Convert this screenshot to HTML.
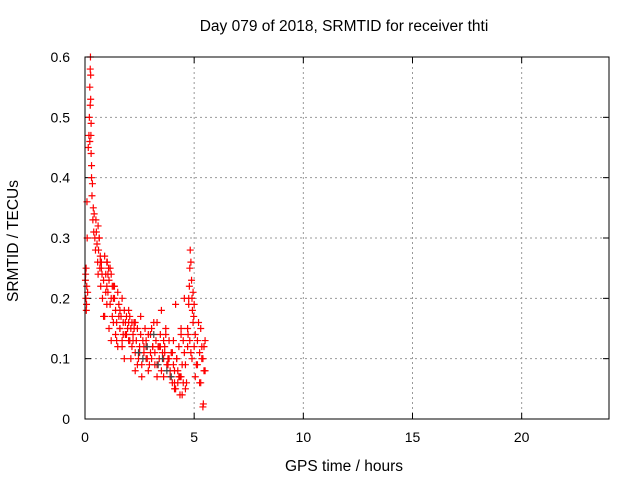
<!DOCTYPE html>
<html><head><meta charset="utf-8"><style>
body{margin:0;background:#fff}
svg{display:block;font-family:"Liberation Sans",sans-serif}
</style></head><body>
<svg id="chart" width="640" height="480">
<text x="344" y="31" font-size="15.5" text-anchor="middle">Day 079 of 2018, SRMTID for receiver thti</text>
<text x="344" y="471" font-size="15.5" text-anchor="middle">GPS time / hours</text>
<text x="18" y="241" font-size="15.5" text-anchor="middle" transform="rotate(-90 18 241)">SRMTID / TECUs</text>
<g id="grid"></g>
<g id="ticks"></g>
<g id="pts"></g>
<rect x="85" y="57" width="524" height="362" fill="none" stroke="#000"/>
</svg>
<script>
const xTicks=[0,5,10,15,20];
const yTicks=[0,0.1,0.2,0.3,0.4,0.5,0.6];
const yTickLabels=["0","0.1","0.2","0.3","0.4","0.5","0.6"];
const hours=[
0.02,0.04,0.05,0.06,0.08,0.1,0.12,0.03,0.07,0.09,
0.15,0.18,0.2,0.22,0.24,0.25,0.26,0.27,0.28,0.3,
0.22,0.24,0.26,0.28,0.3,0.32,0.34,0.36,0.38,0.4,
0.42,0.45,0.48,0.5,0.52,0.55,0.58,0.6,0.62,0.65,
0.68,0.7,0.72,0.75,0.78,0.8,0.85,0.9,0.95,1.0,
1.02,1.05,1.08,1.1,1.15,1.2,1.25,1.3,1.35,1.4,
1.45,1.5,1.55,1.6,1.65,1.7,1.75,1.8,1.85,1.9,
1.95,2.0,0.9,1.0,1.1,1.2,1.3,1.4,1.5,1.6,
1.7,1.8,1.9,2.0,2.05,2.1,2.15,2.2,2.25,2.3,
2.35,2.4,2.45,2.5,2.55,2.6,2.65,2.7,2.75,2.8,
2.85,2.9,2.95,3.0,2.1,2.2,2.3,2.4,2.5,2.6,
2.7,2.8,2.9,3.0,3.05,3.1,3.15,3.2,3.25,3.3,
3.35,3.4,3.45,3.5,3.55,3.6,3.65,3.7,3.75,3.8,
3.85,3.9,3.95,4.0,3.1,3.2,3.3,3.4,3.5,3.6,
3.7,3.8,3.9,4.0,4.05,4.1,4.15,4.2,4.25,4.3,
4.35,4.4,4.45,4.5,4.55,4.6,4.1,4.2,4.3,4.4,
4.5,4.6,4.65,4.7,4.72,4.75,4.78,4.8,4.82,4.85,
4.88,4.9,4.92,4.95,4.98,5.0,4.7,4.75,4.8,4.85,
4.9,4.95,5.0,5.05,5.1,5.15,5.2,5.25,5.3,5.35,
5.4,5.45,5.5,5.05,5.15,5.25,5.35,5.45,5.5,5.3,
5.4,5.42,1.2,1.6,2.3,2.8,3.3,3.6,4.1,4.4,
0.6,0.65,0.7,0.95,1.05,1.25,1.35,1.55,1.75,1.85,
2.05,2.25,2.45,2.65,2.85,3.15,3.35,3.55,3.75,3.95,
4.05,4.25,4.45,4.55,0.75,1.15,1.45,2.15,2.55,3.05,
3.45,3.65,3.85,4.15,4.35,0.85,1.0,1.3,1.7,2.0];
const srmtid=[
0.23,0.2,0.25,0.18,0.22,0.3,0.21,0.24,0.19,0.36,
0.45,0.47,0.5,0.55,0.58,0.6,0.53,0.47,0.44,0.4,
0.46,0.52,0.57,0.49,0.42,0.37,0.39,0.33,0.35,0.31,
0.34,0.3,0.28,0.33,0.31,0.29,0.26,0.24,0.28,0.3,
0.25,0.27,0.22,0.26,0.24,0.2,0.23,0.27,0.24,0.22,
0.26,0.21,0.25,0.23,0.19,0.24,0.17,0.2,0.22,0.18,
0.16,0.21,0.19,0.15,0.17,0.2,0.16,0.18,0.14,0.17,
0.15,0.16,0.17,0.19,0.15,0.13,0.16,0.14,0.12,0.18,
0.12,0.1,0.14,0.13,0.17,0.15,0.12,0.14,0.16,0.11,
0.13,0.15,0.1,0.12,0.14,0.09,0.13,0.11,0.15,0.12,
0.1,0.14,0.09,0.11,0.1,0.13,0.08,0.09,0.11,0.07,
0.12,0.13,0.08,0.14,0.1,0.12,0.16,0.11,0.13,0.09,
0.12,0.1,0.14,0.08,0.11,0.07,0.12,0.15,0.09,0.1,
0.13,0.08,0.11,0.06,0.12,0.09,0.16,0.12,0.18,0.1,
0.14,0.09,0.07,0.11,0.13,0.06,0.05,0.1,0.08,0.12,
0.04,0.07,0.09,0.06,0.11,0.05,0.08,0.1,0.07,0.15,
0.13,0.09,0.06,0.12,0.14,0.19,0.22,0.25,0.28,0.26,
0.23,0.2,0.18,0.21,0.17,0.19,0.15,0.2,0.13,0.11,
0.1,0.16,0.12,0.14,0.09,0.13,0.16,0.11,0.15,0.12,
0.1,0.08,0.13,0.07,0.09,0.06,0.1,0.12,0.08,0.06,
0.02,0.025,0.2,0.15,0.16,0.1,0.07,0.13,0.05,0.14,
0.32,0.3,0.26,0.21,0.24,0.22,0.2,0.17,0.14,0.16,
0.13,0.15,0.11,0.1,0.12,0.14,0.09,0.1,0.08,0.07,
0.09,0.06,0.04,0.2,0.25,0.25,0.13,0.16,0.17,0.15,
0.12,0.11,0.1,0.19,0.07,0.17,0.26,0.22,0.13,0.18];
const grayIdx=[222,223,224,225,226,227,228,229];
const NS="http://www.w3.org/2000/svg";
const X=h=>85+h/24*524, Y=v=>419-v/0.6*362;
const grid=document.getElementById('grid'),ticks=document.getElementById('ticks'),pts=document.getElementById('pts');
function mk(tag,attrs,parent){const e=document.createElementNS(NS,tag);for(const k in attrs)e.setAttribute(k,attrs[k]);parent.appendChild(e);return e;}
xTicks.forEach(t=>{const x=X(t);
 if(t>0){const g=mk('line',{x1:x,x2:x,y1:57,y2:419,stroke:'#999','stroke-dasharray':'2,3'},grid);
 
 }
 mk('line',{x1:x,x2:x,y1:419,y2:413,stroke:'#000'},ticks);mk('line',{x1:x,x2:x,y1:57,y2:63,stroke:'#000'},ticks);
 const l=mk('text',{x:x,y:442,'font-size':14,'text-anchor':'middle'},ticks);l.textContent=t;
 
 });
yTicks.forEach((t,i)=>{const y=Y(t);
 if(t>0&&t<0.6){const g=mk('line',{x1:85,x2:609,y1:y,y2:y,stroke:'#999','stroke-dasharray':'2,3'},grid);
 
 }
 mk('line',{x1:85,x2:91,y1:y,y2:y,stroke:'#000'},ticks);mk('line',{x1:609,x2:603,y1:y,y2:y,stroke:'#000'},ticks);
 const l=mk('text',{x:70,y:y+5,'font-size':14,'text-anchor':'end'},ticks);l.textContent=yTickLabels[i];
 
 });
hours.forEach((h,i)=>{const x=X(h),y=Y(srmtid[i]);const c=grayIdx.includes(i)?'#444':'#f00';
 const p=mk('path',{d:`M${x-3.5},${y}h7M${x},${y-3.5}v7`,stroke:c,'stroke-width':1.2},pts);
 
 });
</script>
</body></html>
